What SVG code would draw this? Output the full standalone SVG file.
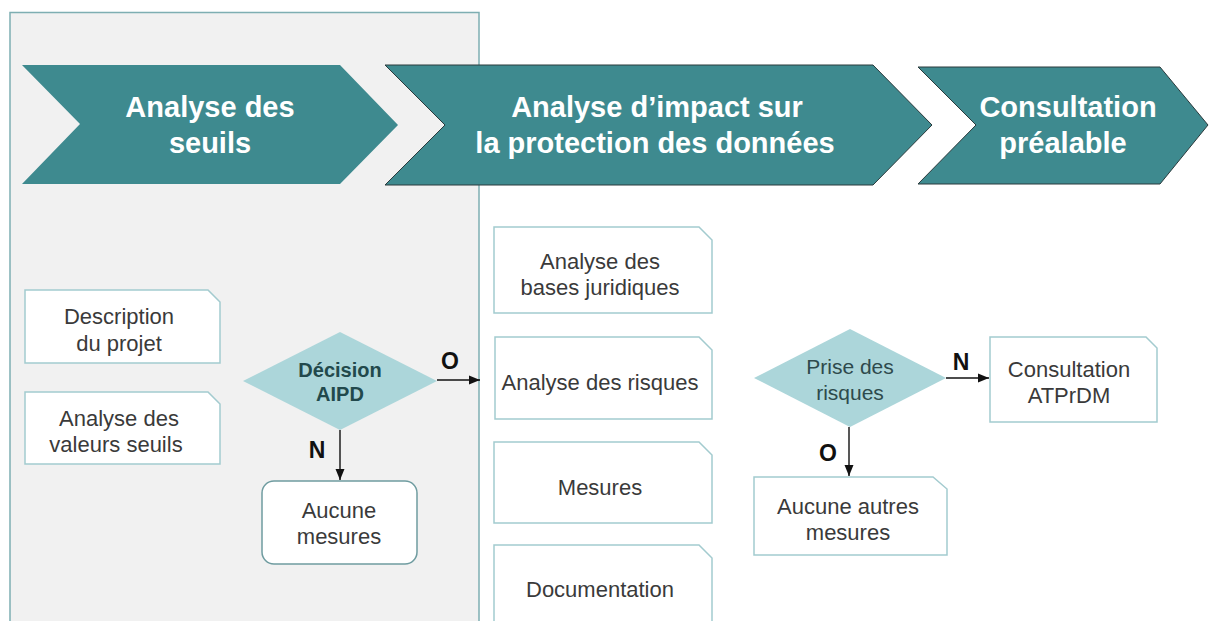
<svg xmlns="http://www.w3.org/2000/svg" width="1209" height="621" viewBox="0 0 1209 621">
<style>
.chev{fill:#3e8a8f}
.chevo{fill:#3e8a8f;stroke:#2a3a3c;stroke-width:1}
.ct{font-family:"Liberation Sans",Arial,sans-serif;font-weight:bold;font-size:29px;fill:#ffffff;text-anchor:middle}
.box{fill:#ffffff;stroke:#a3cbcf;stroke-width:1.5}
.rbox{fill:#ffffff;stroke:#6f9ca0;stroke-width:1.5}
.t{font-family:"Liberation Sans",Arial,sans-serif;font-size:22px;fill:#3a3a3a;text-anchor:middle}
.dia{fill:#acd6da}
.dt{font-family:"Liberation Sans",Arial,sans-serif;font-size:20px;font-weight:bold;fill:#22494c;text-anchor:middle}
.dt2{font-family:"Liberation Sans",Arial,sans-serif;font-size:21px;fill:#2e4a4c;text-anchor:middle}
.lbl{font-family:"Liberation Sans",Arial,sans-serif;font-size:23px;font-weight:bold;fill:#111;text-anchor:middle}
.ln{stroke:#111;stroke-width:1.4;fill:none}
</style>
<defs>
<marker id="ah" markerWidth="12" markerHeight="12" refX="11" refY="6" orient="auto" markerUnits="userSpaceOnUse">
<path d="M0,1.5 L11,6 L0,10.5 Z" fill="#111"/>
</marker>
</defs>
<rect x="0" y="0" width="1209" height="621" fill="#ffffff"/>
<g id="panel">
<rect x="10" y="12.5" width="469" height="620" fill="#f1f1f1" stroke="#7eaeb2" stroke-width="1.5"/>
</g>
<g id="phase1">
<polygon class="chev" points="22,65 340,65 398,125 340,184 22,184 80,124"/>
<text class="ct" x="210" y="117">Analyse des</text>
<text class="ct" x="210" y="153">seuils</text>
</g>
<g id="phase2">
<polygon class="chevo" points="385,65 873,65 932,125 873,185 385,185 445,125"/>
<text class="ct" x="657" y="117">Analyse d’impact sur</text>
<text class="ct" x="655" y="153">la protection des données</text>
</g>
<g id="phase3">
<polygon class="chevo" points="918,67 1160,67 1208,125 1160,184 918,184 976,125"/>
<text class="ct" x="1068" y="117">Consultation</text>
<text class="ct" x="1063" y="153">préalable</text>
</g>
<g id="description">
<path class="box" d="M25,290 H208 L220,302 V363 H25 Z"/>
<text class="t" x="119" y="324">Description</text>
<text class="t" x="119" y="351">du projet</text>
</g>
<g id="valeurs">
<path class="box" d="M25,392 H208 L220,404 V464 H25 Z"/>
<text class="t" x="119" y="426">Analyse des</text>
<text class="t" x="116" y="452">valeurs seuils</text>
</g>
<g id="decision">
<polygon class="dia" points="243,381 340,332 437,381 340,430"/>
<text class="dt" x="340" y="377">Décision</text>
<text class="dt" x="340" y="401">AIPD</text>
</g>
<g id="aucune">
<rect class="rbox" x="262" y="481" width="155" height="83" rx="12"/>
<text class="t" x="339" y="518">Aucune</text>
<text class="t" x="339" y="544">mesures</text>
</g>
<g id="bases">
<path class="box" d="M494,227 H699 L712,240 V313 H494 Z"/>
<text class="t" x="600" y="269">Analyse des</text>
<text class="t" x="600" y="295">bases juridiques</text>
</g>
<g id="risques">
<path class="box" d="M495,337 H699 L712,350 V419 H495 Z"/>
<text class="t" x="600" y="390">Analyse des risques</text>
</g>
<g id="mesures">
<path class="box" d="M494,442 H699 L712,455 V523 H494 Z"/>
<text class="t" x="600" y="495">Mesures</text>
</g>
<g id="documentation">
<path class="box" d="M494,545 H699 L712,558 V640 H494 Z"/>
<text class="t" x="600" y="597">Documentation</text>
</g>
<g id="prise">
<polygon class="dia" points="754,378 850,329 946,378 850,427"/>
<text class="dt2" x="850" y="374">Prise des</text>
<text class="dt2" x="850" y="400">risques</text>
</g>
<g id="atprdm">
<path class="box" d="M990,337 H1146 L1157,348 V422 H990 Z"/>
<text class="t" x="1069" y="377">Consultation</text>
<text class="t" x="1069" y="403">ATPrDM</text>
</g>
<g id="aucuneautres">
<path class="box" d="M754,477 H933 L947,489 V555 H754 Z"/>
<text class="t" x="848" y="514">Aucune autres</text>
<text class="t" x="848" y="540">mesures</text>
</g>
<g id="connectors">
<line class="ln" x1="437" y1="380" x2="480" y2="380" marker-end="url(#ah)"/>
<text class="lbl" x="450" y="369">O</text>
<line class="ln" x1="340" y1="430" x2="340" y2="480" marker-end="url(#ah)"/>
<text class="lbl" x="317" y="458">N</text>
<line class="ln" x1="946" y1="378" x2="989" y2="378" marker-end="url(#ah)"/>
<text class="lbl" x="961" y="370">N</text>
<line class="ln" x1="849" y1="427" x2="849" y2="476" marker-end="url(#ah)"/>
<text class="lbl" x="828" y="461">O</text>
</g>
</svg>
